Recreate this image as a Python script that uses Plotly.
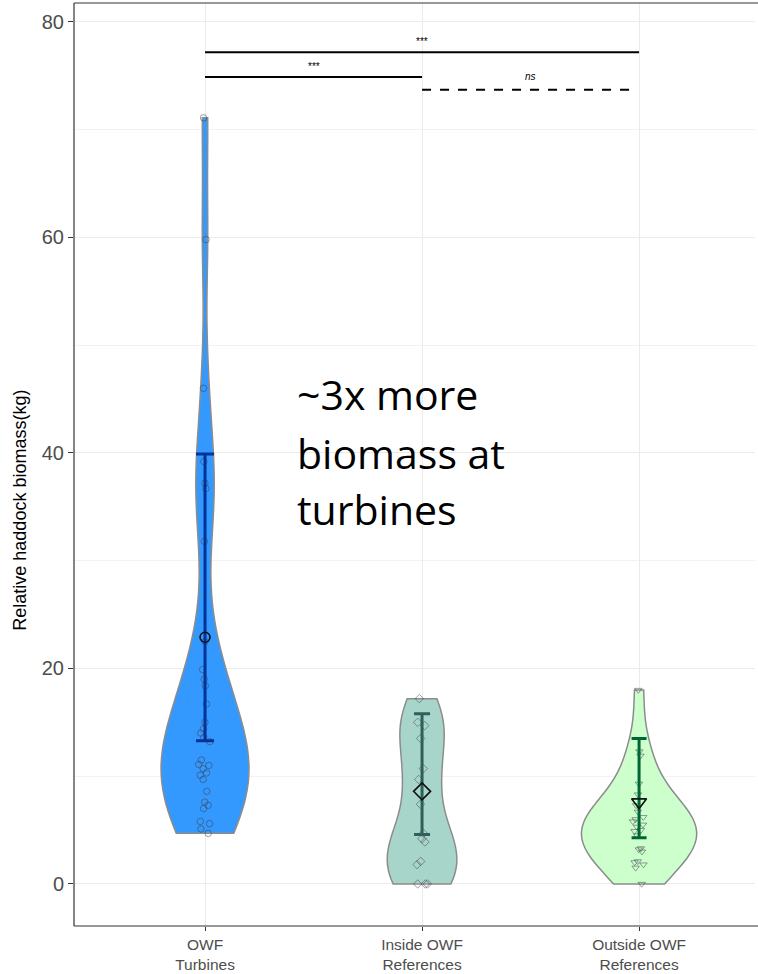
import plotly.graph_objects as go

# Groups and raw biomass samples (kg)
groups = ["OWF<br>Turbines", "Inside OWF<br>References", "Outside OWF<br>References"]

turbines = [71.1, 59.8, 46.0, 39.2, 37.2, 36.7, 31.8, 22.5, 19.9, 19.0, 18.4,
            16.7, 15.0, 14.4, 14.0, 13.6, 13.2, 11.5, 11.1, 11.0, 10.7, 10.3,
            10.1, 9.7, 8.6, 7.6, 7.3, 7.0, 5.8, 5.6, 5.1, 4.7]
inside_refs = [17.2, 15.0, 14.7, 13.5, 10.7, 9.7, 7.4, 4.7, 4.2, 3.9, 2.1,
               1.8, 0.0, 0.0, 0.0]
outside_refs = [18.0, 12.3, 11.9, 9.3, 8.3, 7.3, 6.7, 6.2, 6.0, 5.8, 5.5,
                5.3, 5.0, 4.9, 4.5, 3.3, 3.2, 3.0, 2.1, 2.0, 1.8, 1.5, 0.0]

# Group summaries: centre estimate and interval
centre = [22.9, 8.6, 7.6]
lower = [13.3, 4.6, 4.3]
upper = [39.9, 15.8, 13.5]

# Pairwise comparisons: (from group idx, to group idx, bar height, label)
comparisons = [(0, 2, 77.2, "***"), (0, 1, 74.9, "***"), (1, 2, 73.7, "ns")]

fills = ["#3399FF", "#A8D5C9", "#CCFFCC"]
bar_colours = ["#003399", "#2F5F5B", "#006633"]
point_symbols = ["circle-open", "diamond-open", "triangle-down-open"]
mean_symbols = ["circle-open", "diamond-open", "triangle-down-open"]
mean_sizes = [10, 13, 13]
violin_widths = [0.405, 0.32, 0.53]
bandwidths = [4.8, 2.6, 2.5]
jitters = [0.15, 0.2, 0.12]
cap_widths = [9, 8, 7.5]

samples = [turbines, inside_refs, outside_refs]

fig = go.Figure()

for i, g in enumerate(groups):
    fig.add_trace(go.Violin(
        x=[g] * len(samples[i]),
        y=samples[i],
        name=g,
        fillcolor=fills[i],
        opacity=1,
        line=dict(color="#8C8C8C", width=1.5),
        spanmode="hard",
        scalemode="width",
        width=violin_widths[i],
        bandwidth=bandwidths[i],
        points="all",
        pointpos=0,
        jitter=jitters[i],
        marker=dict(symbol=point_symbols[i], size=6.5,
                    color="rgba(60,60,70,0.5)",
                    line=dict(width=1)),
        box_visible=False,
        meanline_visible=False,
        hoveron="violins+points",
        showlegend=False,
    ))

for i, g in enumerate(groups):
    fig.add_trace(go.Scatter(
        x=[g],
        y=[centre[i]],
        mode="markers",
        marker=dict(symbol=mean_symbols[i], size=mean_sizes[i], color="#111111",
                    line=dict(color="#111111", width=1.6)),
        error_y=dict(type="data", symmetric=False,
                     array=[upper[i] - centre[i]],
                     arrayminus=[centre[i] - lower[i]],
                     color=bar_colours[i], thickness=3, width=cap_widths[i]),
        showlegend=False,
    ))

# Significance brackets
for a, b, h, lab in comparisons:
    dashed = lab == "ns"
    fig.add_shape(type="line", x0=a, x1=b - (0.015 if dashed else 0), y0=h, y1=h,
                  xref="x", yref="y",
                  line=dict(color="black", width=2, dash="dash" if dashed else "solid"))
    fig.add_annotation(x=(a + b) / 2, y=h + (1.2 if dashed else 1.0), xref="x", yref="y",
                       text="<i>ns</i>" if dashed else lab, showarrow=False,
                       font=dict(family="Liberation Sans, Arial", size=10, color="#000000"))

# Panel edges drawn as shapes (left, top, bottom); the panel runs on past the right edge
edge = dict(color="#333333", width=1.2)
fig.add_shape(type="line", xref="paper", yref="paper", x0=0, x1=1, y0=1, y1=1, line=edge)
fig.add_shape(type="line", xref="paper", yref="paper", x0=0, x1=1, y0=0, y1=0, line=edge)
fig.add_shape(type="line", xref="paper", yref="paper", x0=0, x1=0, y0=0, y1=1, line=edge)

# Open right side of the panel
fig.add_annotation(x=1, y=0.5, xref="paper", yref="paper", text=" ",
                   showarrow=False, xanchor="right", yanchor="middle",
                   width=3, height=918, bgcolor="white",
                   borderpad=0, borderwidth=0, font=dict(size=1))

# Callout text
callout = ["~3x more", "biomass at", "turbines"]
callout_y = [45.5, 40.0, 34.8]
for line, yv in zip(callout, callout_y):
    fig.add_annotation(x=0.416, y=yv, xref="x", yref="y", text=line,
                       showarrow=False, xanchor="left", yanchor="middle",
                       font=dict(family="Open Sans", size=41, color="black"))

# Y-axis title
fig.add_annotation(x=-0.079, y=0.451, xref="paper", yref="paper",
                   text="Relative haddock biomass(kg)", textangle=-90,
                   showarrow=False, xanchor="center", yanchor="middle",
                   font=dict(family="Liberation Sans, Arial", size=18, color="black"))

fig.update_layout(
    template="none",
    width=758, height=974,
    margin=dict(l=74, r=0, t=3, b=48, autoexpand=False),
    paper_bgcolor="white", plot_bgcolor="white",
    font=dict(family="Liberation Sans, Arial", color="#4D4D4D"),
    violinmode="overlay",
)

fig.update_xaxes(
    type="category", categoryorder="array", categoryarray=groups,
    range=[-0.6037, 2.548], automargin=False,
    showgrid=True, gridcolor="#EBEBEB", gridwidth=1,
    showline=False, mirror=False,
    ticks="outside", ticklen=4, tickcolor="#333333", tickwidth=1,
    tickfont=dict(size=15.5, color="#4D4D4D"),
    zeroline=False,
)

fig.update_yaxes(
    range=[-3.9, 81.76], automargin=False,
    tickvals=[0, 20, 40, 60, 80],
    showgrid=True, gridcolor="#EBEBEB", gridwidth=1.2,
    minor=dict(tickvals=[10, 30, 50, 70], showgrid=True,
               gridcolor="#F2F2F2", gridwidth=0.8, ticks=""),
    showline=False, mirror=False,
    ticks="outside", ticklen=5, tickcolor="#333333", tickwidth=1,
    tickfont=dict(size=20, color="#4D4D4D"),
    zeroline=False,
)

fig.write_html("out.html")
